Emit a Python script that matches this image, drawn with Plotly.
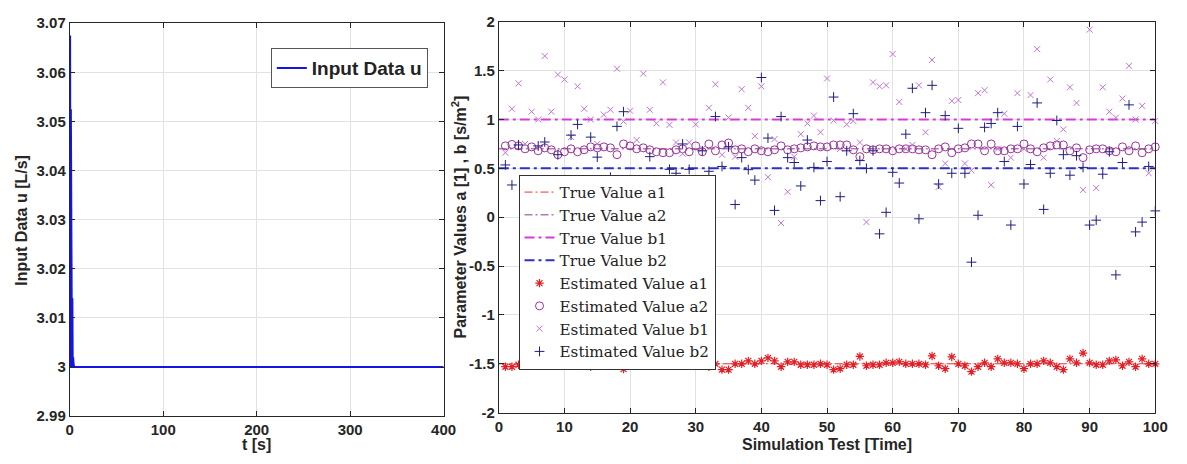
import plotly.graph_objects as go

# ---------------- Left panel data ----------------
t_u = [0, 0.4, 0.8, 1.2, 1.6, 2.0, 2.4, 2.8, 3.2, 3.6, 4.2, 5, 400]
u = [3.0, 3.0675, 3.0, 3.0525, 3.0, 3.029, 3.0, 3.014, 3.0, 3.002, 3.0005, 3.0, 3.0]
left_xticks = [0, 100, 200, 300, 400]
left_yticks = [2.99, 3.0, 3.01, 3.02, 3.03, 3.04, 3.05, 3.06, 3.07]
left_yticktext = ["2.99", "3", "3.01", "3.02", "3.03", "3.04", "3.05", "3.06", "3.07"]

# ---------------- Right panel data ----------------
sim = list(range(1, 101))
true_x = [0, 100]
true_a1, true_a2, true_b1, true_b2 = -1.5, 0.7, 1.0, 0.5

a1 = [-1.53, -1.53, -1.51, -1.51, -1.52, -1.49, -1.49, -1.49, -1.47, -1.47,
      -1.51, -1.49, -1.50, -1.53, -1.51, -1.50, -1.50, -1.49, -1.555, -1.50,
      -1.49, -1.49, -1.50, -1.51, -1.45, -1.49, -1.51, -1.47, -1.50, -1.50,
      -1.45, -1.53, -1.50, -1.56, -1.56, -1.50, -1.50, -1.47, -1.50, -1.47,
      -1.44, -1.47, -1.53, -1.48, -1.48, -1.51, -1.51, -1.51, -1.50, -1.51,
      -1.56, -1.55, -1.51, -1.51, -1.425, -1.52, -1.51, -1.51, -1.49, -1.49,
      -1.48, -1.50, -1.50, -1.50, -1.51, -1.42, -1.52, -1.55, -1.43, -1.50,
      -1.52, -1.58, -1.53, -1.49, -1.53, -1.45, -1.49, -1.49, -1.50, -1.55,
      -1.50, -1.50, -1.47, -1.49, -1.53, -1.56, -1.45, -1.49, -1.39, -1.49,
      -1.51, -1.51, -1.47, -1.46, -1.52, -1.48, -1.53, -1.45, -1.50, -1.50]

a2 = [0.73, 0.745, 0.73, 0.70, 0.72, 0.68, 0.71, 0.69, 0.64, 0.67,
      0.70, 0.67, 0.69, 0.72, 0.71, 0.72, 0.71, 0.64, 0.75, 0.73,
      0.70, 0.71, 0.69, 0.67, 0.66, 0.66, 0.69, 0.70, 0.67, 0.73,
      0.67, 0.75, 0.68, 0.74, 0.76, 0.69, 0.70, 0.67, 0.70, 0.68,
      0.67, 0.69, 0.73, 0.69, 0.70, 0.71, 0.72, 0.73, 0.72, 0.72,
      0.74, 0.74, 0.74, 0.69, 0.62, 0.70, 0.69, 0.70, 0.70, 0.68,
      0.70, 0.70, 0.70, 0.69, 0.69, 0.64, 0.70, 0.72, 0.66, 0.70,
      0.71, 0.75, 0.75, 0.68, 0.75, 0.68, 0.68, 0.70, 0.70, 0.75,
      0.70, 0.67, 0.71, 0.73, 0.74, 0.74, 0.68, 0.71, 0.61, 0.69,
      0.70, 0.70, 0.68, 0.67, 0.72, 0.68, 0.73, 0.66, 0.70, 0.72]

b1 = [0.66, 1.11, 1.37, 0.75, 1.08, 1.00, 1.65, 1.08, 1.46, 1.41,
      0.82, 1.34, 1.11, 1.00, 0.75, 1.05, 1.10, 1.52, 0.98, 1.09,
      0.79, 1.47, 1.10, 0.96, 1.38, 0.945, 0.765, 0.65, 0.765, 0.95,
      0.70, 1.12, 1.36, 0.64, 1.02, 0.62, 1.31, 1.12, 0.83, 1.34,
      0.41, 0.80, -0.06, 0.26, 0.62, 0.85, 0.96, 1.04, 0.87, 1.42,
      0.99, 0.70, 0.95, 0.985, 0.765, -0.05, 1.38, 1.34, 1.35, 1.67,
      1.18, 0.70, 0.74, 1.35, 0.87, 1.61, 0.31, 0.55, 1.19, 1.20,
      0.55, 0.48, 1.27, 1.30, 0.33, 0.70, 1.06, 0.61, 1.27, 0.70,
      1.25, 1.72, 0.61, 1.41, 0.78, 0.90, 1.33, 1.17, 0.28, 1.92,
      0.30, 1.33, 1.08, 1.02, 1.215, 1.55, 1.00, 1.14, 0.45, 0.985]

b2 = [0.535, 0.33, 0.74, 0.20, -0.10, 0.73, 0.77, 0.25, 0.64, 0.05,
      0.84, 0.95, -0.30, 0.82, 0.615, 0.15, 0.41, 0.93, 1.08, 0.30,
      -0.20, 0.10, 0.62, 0.35, -0.05, 0.49, 0.45, 0.75, 0.49, 0.20,
      0.68, 0.47, 1.03, 0.52, 0.72, 0.13, 0.61, 0.487, 0.38, 1.43,
      0.81, 0.07, 1.03, 0.61, 0.56, 0.32, 0.79, 0.51, 0.17, 0.57,
      1.23, 0.21, 0.68, 1.06, 0.58, 0.50, 0.68, -0.17, 0.05, 0.46,
      0.35, 0.85, 1.32, -0.016, 1.07, 1.35, 0.34, 1.04, 0.45, 0.91,
      0.45, -0.46, 0.02, 0.92, 0.96, 1.07, 0.57, -0.08, 0.93, 0.34,
      0.54, 1.17, 0.08, 0.45, 0.99, 0.64, 0.43, 0.63, 0.51, -0.08,
      -0.03, 0.44, 0.67, -0.59, 0.56, 1.15, -0.15, -0.05, 0.52, 0.065]

right_xticks = [0, 10, 20, 30, 40, 50, 60, 70, 80, 90, 100]
right_yticks = [-2, -1.5, -1, -0.5, 0, 0.5, 1, 1.5, 2]
right_yticktext = ["-2", "-1.5", "-1", "-0.5", "0", "0.5", "1", "1.5", "2"]

# ---------------- Styling ----------------
W, H = 1187, 464
AX = "#262626"
GRID = "#E2E2E2"
SANS = "Liberation Sans"
SERIF = "DejaVu Serif"

fig = go.Figure()

fig.add_trace(go.Scatter(x=t_u, y=u, mode="lines", name="Input Data u",
                         line=dict(color="#1414E6", width=2),
                         xaxis="x", yaxis="y", legend="legend2"))

fig.add_trace(go.Scatter(x=true_x, y=[true_a1] * 2, mode="lines", name="True Value a1",
                         line=dict(color="#E03A3A", width=1, dash="8px,3px,2px,3px"),
                         xaxis="x2", yaxis="y2", legend="legend"))
fig.add_trace(go.Scatter(x=true_x, y=[true_a2] * 2, mode="lines", name="True Value a2",
                         line=dict(color="#8E3592", width=1, dash="8px,3px,2px,3px"),
                         xaxis="x2", yaxis="y2", legend="legend"))
fig.add_trace(go.Scatter(x=true_x, y=[true_b1] * 2, mode="lines", name="True Value b1",
                         line=dict(color="#D63CD6", width=2, dash="10px,4px,3px,4px"),
                         xaxis="x2", yaxis="y2", legend="legend"))
fig.add_trace(go.Scatter(x=true_x, y=[true_b2] * 2, mode="lines", name="True Value b2",
                         line=dict(color="#3030C0", width=2, dash="10px,4px,3px,4px"),
                         xaxis="x2", yaxis="y2", legend="legend"))

fig.add_trace(go.Scatter(x=sim, y=a1, mode="markers", name="Estimated Value a1",
                         marker=dict(symbol="asterisk-open", size=7, color="#E31E24",
                                     line=dict(width=1.2, color="#E31E24")),
                         cliponaxis=False, xaxis="x2", yaxis="y2", legend="legend"))
fig.add_trace(go.Scatter(x=sim, y=a2, mode="markers", name="Estimated Value a2",
                         marker=dict(symbol="circle-open", size=8, color="#98359A",
                                     line=dict(width=1, color="#98359A")),
                         cliponaxis=False, xaxis="x2", yaxis="y2", legend="legend"))
fig.add_trace(go.Scatter(x=sim, y=b1, mode="markers", name="Estimated Value b1",
                         marker=dict(symbol="x-thin-open", size=6, color="#C173D2",
                                     line=dict(width=1, color="#C173D2")),
                         cliponaxis=False, xaxis="x2", yaxis="y2", legend="legend"))
fig.add_trace(go.Scatter(x=sim, y=b2, mode="markers", name="Estimated Value b2",
                         marker=dict(symbol="cross-thin-open", size=7, color="#1E1E80",
                                     line=dict(width=1, color="#1E1E80")),
                         cliponaxis=False, xaxis="x2", yaxis="y2", legend="legend"))


def px_x(p):
    return p / W


def px_y(p):
    return 1 - p / H


axis_common = dict(showline=True, linecolor=AX, linewidth=1, mirror="ticks",
                   ticks="inside", ticklen=5, tickcolor=AX, tickwidth=1,
                   showgrid=True, gridcolor=GRID, gridwidth=1, zeroline=False,
                   tickfont=dict(family=SANS, size=15, color=AX, weight="bold"))

fig.update_layout(
    width=W, height=H,
    margin=dict(l=0, r=0, t=0, b=0),
    paper_bgcolor="white", plot_bgcolor="white",
    xaxis=dict(domain=[px_x(66.7), px_x(446)], range=[0, 400],
               tickvals=left_xticks, ticktext=[str(v) for v in left_xticks],
               anchor="y", **axis_common),
    yaxis=dict(domain=[px_y(422.7), px_y(14.7)], range=[2.99, 3.07],
               tickvals=left_yticks, ticktext=left_yticktext,
               anchor="x", **axis_common),
    xaxis2=dict(domain=[px_x(502), px_x(1168)], range=[0, 100],
                tickvals=right_xticks, ticktext=[str(v) for v in right_xticks],
                anchor="y2", **axis_common),
    yaxis2=dict(domain=[px_y(419), px_y(13.3)], range=[-2, 2],
                tickvals=right_yticks, ticktext=right_yticktext,
                anchor="x2", **axis_common),
    legend=dict(x=px_x(522), y=px_y(172), xanchor="left", yanchor="top",
                bgcolor="white", bordercolor="#333333", borderwidth=1,
                font=dict(family=SERIF, size=15.2, color="#222222"),
                tracegroupgap=0),
    legend2=dict(x=px_x(270.7), y=px_y(40.7), xanchor="left", yanchor="top",
                 bgcolor="white", bordercolor="#555555", borderwidth=1,
                 font=dict(family=SANS, size=19, color="#222222", weight="bold")),
    showlegend=True,
    annotations=[
        dict(text="Input Data u [L/s]", x=px_x(18), y=px_y(219), xref="paper", yref="paper",
             textangle=-90, showarrow=False, xanchor="center", yanchor="middle",
             font=dict(family=SANS, size=16, color=AX, weight="bold")),
        dict(text="t [s]", x=px_x(256.5), y=px_y(452), xref="paper", yref="paper",
             showarrow=False, xanchor="center", yanchor="middle",
             font=dict(family=SANS, size=16, color=AX, weight="bold")),
        dict(text="Parameter Values a [1] , b [s/m<sup>2</sup>]", x=px_x(462), y=px_y(216),
             xref="paper", yref="paper", textangle=-90, showarrow=False,
             xanchor="center", yanchor="middle",
             font=dict(family=SANS, size=16, color=AX, weight="bold")),
        dict(text="Simulation Test [Time]", x=px_x(835), y=px_y(452), xref="paper", yref="paper",
             showarrow=False, xanchor="center", yanchor="middle",
             font=dict(family=SANS, size=16, color=AX, weight="bold")),
    ],
)

fig.write_html("out.html")
